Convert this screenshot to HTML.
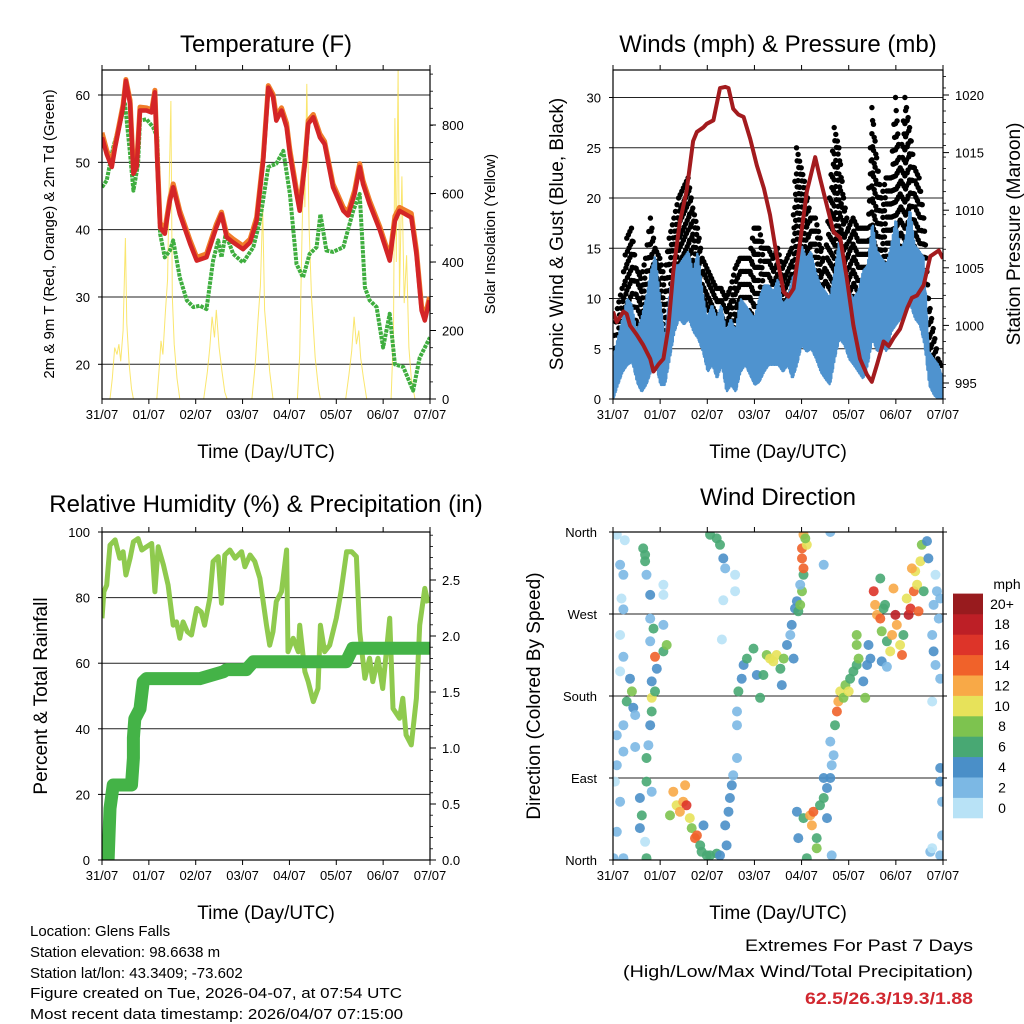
<!DOCTYPE html>
<html><head><meta charset="utf-8">
<style>
html,body{margin:0;padding:0;background:#fff;}
svg{display:block;font-family:"Liberation Sans",Arial,sans-serif;}
</style></head>
<body>
<svg id="chart" width="1024" height="1024" viewBox="0 0 1024 1024" xmlns="http://www.w3.org/2000/svg">
<rect width="1024" height="1024" fill="#fff"/>
<text x="266" y="52" font-size="24" text-anchor="middle">Temperature (F)</text>
<text x="778" y="52" font-size="24" text-anchor="middle">Winds (mph) &amp; Pressure (mb)</text>
<text x="266" y="512" font-size="24" text-anchor="middle">Relative Humidity (%) &amp; Precipitation (in)</text>
<text x="778" y="505" font-size="24" text-anchor="middle">Wind Direction</text>
<text x="266" y="458" font-size="19" text-anchor="middle">Time (Day/UTC)</text>
<text x="778" y="458" font-size="19" text-anchor="middle">Time (Day/UTC)</text>
<text x="266" y="919" font-size="19" text-anchor="middle">Time (Day/UTC)</text>
<text x="778" y="919" font-size="19" text-anchor="middle">Time (Day/UTC)</text>
<text transform="translate(54,234) rotate(-90)" font-size="15" text-anchor="middle">2m &amp; 9m T (Red, Orange) &amp; 2m Td (Green)</text>
<text transform="translate(495,234) rotate(-90)" font-size="15" text-anchor="middle">Solar Insolation (Yellow)</text>
<text transform="translate(563,234) rotate(-90)" font-size="19" text-anchor="middle">Sonic Wind &amp; Gust (Blue, Black)</text>
<text transform="translate(1020,234) rotate(-90)" font-size="19" text-anchor="middle">Station Pressure (Maroon)</text>
<text transform="translate(47,696) rotate(-90)" font-size="19" text-anchor="middle">Percent &amp; Total Rainfall</text>
<text transform="translate(540,696) rotate(-90)" font-size="19" text-anchor="middle">Direction (Colored By Speed)</text>
<g font-size="15">
<text x="30" y="936">Location: Glens Falls</text>
<text x="30" y="957">Station elevation: 98.6638 m</text>
<text x="30" y="978">Station lat/lon: 43.3409; -73.602</text>
<text x="30" y="998" textLength="372" lengthAdjust="spacingAndGlyphs">Figure created on Tue, 2026-04-07, at 07:54 UTC</text>
<text x="30" y="1019" textLength="373" lengthAdjust="spacingAndGlyphs">Most recent data timestamp: 2026/04/07 07:15:00</text>
</g>
<g font-size="17" text-anchor="end">
<text x="973" y="951" textLength="228" lengthAdjust="spacingAndGlyphs">Extremes For Past 7 Days</text>
<text x="973" y="977" textLength="350" lengthAdjust="spacingAndGlyphs">(High/Low/Max Wind/Total Precipitation)</text>
<text x="973" y="1004" font-weight="bold" fill="#d1272f" textLength="168" lengthAdjust="spacingAndGlyphs">62.5/26.3/19.3/1.88</text>
</g>
</svg>
<script>
// ---------- DATA ----------
const dayLabels = ["31/07","01/07","02/07","03/07","04/07","05/07","06/07","07/07"];
// Temperature panel
const tempDays = [0,0.10,0.21,0.28,0.38,0.45,0.51,0.60,0.67,0.74,0.81,0.95,1.06,1.13,1.18,1.24,1.34,1.45,1.52,1.66,1.88,2.02,2.23,2.44,2.55,2.66,2.80,3.01,3.16,3.30,3.44,3.55,3.65,3.72,3.83,3.94,4.01,4.15,4.22,4.33,4.40,4.51,4.65,4.75,4.93,5.15,5.25,5.39,5.50,5.57,5.71,5.93,6.14,6.25,6.35,6.60,6.71,6.82,6.89,6.99];
const temp2m = [53.7,51.2,49.3,52.2,55.7,58.2,62.1,58.7,48.3,49.3,57.7,57.7,57.4,60.4,50.2,40.3,39.4,44.3,46.3,42.3,37.9,35.4,35.9,40.3,42.3,38.9,38.1,37.1,38.1,41.3,50.2,61.1,59.7,56.2,57.7,55.2,51.2,45.3,42.8,49.8,55.7,56.7,53.7,52.7,46.3,42.8,42.1,45.3,49.3,46.8,43.8,39.9,35.4,41.3,42.8,41.8,36.4,28.0,26.5,29.5];
const temp9m = [54.4,51.8,49.9,52.6,56.1,58.6,62.3,59.2,48.9,49.9,58.2,58.1,57.8,60.7,50.8,41.0,40.0,44.7,46.8,42.8,38.4,35.9,36.4,40.8,42.6,39.4,38.6,37.6,38.6,41.8,50.7,61.4,60.1,56.9,58.1,55.8,51.8,45.9,43.4,50.3,56.2,57.1,54.2,53.1,46.8,43.3,42.6,45.8,49.8,47.3,44.3,40.4,35.9,42.0,43.3,42.4,37.0,28.6,27.0,30.0];
const dewDays = [0,0.1,0.24,0.38,0.49,0.6,0.67,0.77,0.81,0.95,1.09,1.18,1.24,1.34,1.45,1.52,1.66,1.81,1.95,2.09,2.23,2.37,2.48,2.55,2.64,2.8,3.01,3.23,3.37,3.48,3.55,3.72,3.87,4.01,4.15,4.29,4.43,4.58,4.66,4.79,4.93,5.15,5.36,5.5,5.61,5.71,5.86,6.0,6.14,6.25,6.43,6.64,6.78,7.0];
const dewPoint = [46.3,47.3,52.2,55.7,58.7,51.2,45.8,49.8,56.2,56.4,55.2,53.7,39.4,35.9,36.9,38.4,32.9,29.5,28.5,28.7,28.2,35.4,38.4,35.9,39.4,36.4,35.1,37.4,41.3,46.3,49.3,49.8,51.7,45.3,34.9,32.9,36.4,37.4,42.3,36.9,36.7,37.4,42.8,45.3,31.4,29.5,28.5,22.5,27.5,20.0,19.6,16.1,21.0,24.0];
const solarDays = [0,0.17,0.22,0.27,0.32,0.36,0.4,0.45,0.5,0.53,0.58,0.63,0.67,1.17,1.22,1.26,1.3,1.35,1.4,1.43,1.47,1.5,1.54,1.6,1.66,2.17,2.25,2.3,2.35,2.4,2.44,2.5,2.56,2.62,2.67,3.2,3.27,3.33,3.38,3.43,3.47,3.52,3.58,3.65,4.17,4.22,4.26,4.3,4.33,4.37,4.42,4.47,4.55,4.62,4.66,5.2,5.27,5.33,5.38,5.43,5.48,5.52,5.58,5.65,6.17,6.22,6.25,6.28,6.32,6.35,6.4,6.45,6.5,6.55,6.6,6.68,7.0];
const solarVals = [0,0,60,150,130,160,110,200,470,220,100,30,0,0,90,170,130,250,350,600,870,300,160,60,0,0,80,150,240,180,260,150,80,20,0,0,100,230,330,560,260,180,80,0,0,130,420,680,560,920,500,300,120,30,0,0,70,140,240,160,200,120,60,0,0,200,820,400,960,300,650,280,420,150,60,0,0];
const tempTicks = [20,30,40,50,60];
const solarTicks = [0,200,400,600,800];
// Winds panel
const pressDays = [0,0.08,0.22,0.29,0.36,0.5,0.64,0.79,0.86,0.96,1.07,1.17,1.28,1.42,1.56,1.7,1.78,1.92,1.99,2.13,2.27,2.38,2.45,2.55,2.66,2.77,2.91,3.05,3.2,3.33,3.47,3.62,3.72,3.83,3.97,4.11,4.29,4.39,4.53,4.68,4.82,4.96,5.1,5.24,5.39,5.49,5.6,5.74,5.85,5.95,6.09,6.24,6.34,6.45,6.59,6.73,6.91,7.0];
const pressVals = [1001.2,1000.3,1001.2,1001.0,1000.0,999.2,998.3,997.1,996.0,996.6,997.1,999.7,1004.7,1009.0,1011.6,1016.0,1016.8,1017.2,1017.5,1017.8,1020.6,1020.7,1020.6,1018.8,1018.3,1018.1,1016.2,1013.9,1011.9,1009.6,1006.1,1002.9,1002.5,1003.2,1007.3,1011.6,1014.6,1012.8,1010.5,1008.1,1007.6,1004.1,1000.0,997.1,995.7,995.1,996.6,998.6,998.2,998.9,999.7,1001.5,1002.4,1002.6,1003.5,1006.0,1006.5,1005.8];
const windHi = [4,6,8,10,9.4,6.7,8,10,12.7,14.3,10,6,10.7,13.3,13.3,14,14.7,12.7,14.7,10.7,8,9.4,8,9.4,6.7,8,6.7,10,9.4,8.7,8,10,11.3,11.3,10.7,12,9.4,10,12,12.7,15.3,14,14.7,12.7,11.3,10.7,10,12.7,15.9,12.7,10.7,10,10.7,12.7,13.3,17.6,14.7,14,13.3,15.3,18,14.7,15.9,19,15.3,14.7,14,4.7,4,3.4,2];
const windLo = [0,1.4,2.7,3.4,3.7,1.7,0.7,1.4,2.7,3.4,1.4,1.4,4,6.7,8,7.4,8,6.7,6,4.7,2.7,3.4,2,3.4,0.7,1.4,0.7,2.7,3.4,2.4,1.4,1.7,2.7,3.4,3.4,3.4,2.7,3.4,2,3.4,5.4,4.7,5,4,2.7,2,1.4,4,6,5.4,4,3.4,2.7,2,3.4,6,4.7,5.4,4.7,6.7,7.4,8,8.7,9.4,8,7.4,5.4,1.4,0.4,0,0];
const gustHi = [5,9,11,16,17,13,12,14,18,15,14,12,16,18,20,21,22,19,17,14,13,12,11,11,10,11,13,14,14,14,17,17,15,15,14,15,13,14,15,25,23,21,18,18,16,13,20,27,25,20,17,18,17,17,17,29,24,20,22,22,30,23,30,27,23,22,18,10,7,4,3];
const windTicks = [0,5,10,15,20,25,30];
const pressTicks = [995,1000,1005,1010,1015,1020];
// Humidity panel
const rhDays = [0,0.04,0.1,0.17,0.28,0.38,0.45,0.51,0.6,0.67,0.77,0.85,0.95,1.06,1.13,1.2,1.31,1.41,1.52,1.59,1.66,1.73,1.82,1.91,2.02,2.12,2.19,2.3,2.37,2.48,2.55,2.62,2.73,2.84,2.98,3.05,3.16,3.26,3.37,3.51,3.58,3.65,3.72,3.83,3.94,3.97,4.08,4.19,4.22,4.33,4.4,4.51,4.61,4.66,4.75,4.86,5.0,5.1,5.22,5.33,5.43,5.5,5.61,5.71,5.78,5.89,5.99,6.14,6.21,6.35,6.42,6.49,6.6,6.71,6.78,6.89,6.96];
const rhVals = [73.7,81.8,83.8,96,97.6,92,94,86.9,92,97,98,94.5,95.5,96.5,81.8,95.5,90,83.8,71.6,72.6,67.6,72.6,69.6,68.6,76.7,75.6,71.6,79.8,91,92.5,78.3,93,94.5,92,94,89.4,93,91,85.9,71.6,65.5,69.6,78.8,81.8,94.5,63.5,67.6,63.5,71.6,57.4,54.4,48.3,52.3,71.6,63.5,65.5,73.7,81.8,94,94,92.5,69.6,55.4,61.5,54.4,61.5,52.3,73.7,46.2,43.2,49.3,38.1,35.1,49.3,71.6,82.8,78.3];
const rainDays = [0,0.13,0.17,0.24,0.63,0.67,0.67,0.7,0.81,0.88,0.95,2.09,2.59,2.66,3.08,3.23,5.21,5.35,7.0];
const rainVals = [0,0,0.46,0.67,0.67,0.91,1.09,1.26,1.35,1.59,1.62,1.62,1.68,1.70,1.70,1.77,1.77,1.89,1.89];
const rhTicks = [0,20,40,60,80,100];
const rainTicks = ["0.0","0.5","1.0","1.5","2.0","2.5"];
// Wind direction panel
const dirDays = [0.08,0.25,0.15,0.22,0.18,0.22,0.15,0.22,0.15,0.36,0.40,0.29,0.43,0.47,0.22,0.08,0.22,0.47,0.08,0.04,0.15,0.08,0.22,0.57,0.61,0.57,0.68,0.71,0.71,0.75,0.79,0.82,0.82,0.89,0.82,0.93,0.89,1.07,1.14,1.07,0.86,0.79,0.68,0.64,0.68,0.71,0.79,1.07,1.07,0.79,0.82,0.71,0.01,
1.28,1.35,1.49,1.56,1.42,1.53,1.63,1.67,1.74,1.78,1.85,1.92,1.88,1.99,2.06,2.20,2.27,2.41,2.38,2.45,2.48,2.52,2.55,2.63,1.21,2.06,2.20,2.27,2.34,2.38,2.59,2.59,2.34,2.31,
2.63,2.63,2.66,2.73,2.77,2.84,2.98,3.05,3.12,3.19,3.26,3.33,3.40,3.47,3.55,3.58,3.62,3.69,3.76,3.83,3.79,3.86,3.93,3.90,3.97,4.01,3.97,4.04,4.04,4.01,4.01,4.11,4.04,4.08,4.61,4.47,
3.90,3.93,4.04,4.18,4.22,4.25,4.32,4.32,4.11,4.39,4.47,4.54,4.61,4.64,4.68,4.61,4.47,4.54,4.64,4.71,4.75,4.78,4.82,4.89,4.93,5.00,5.03,5.10,5.17,5.21,5.17,5.31,5.35,5.39,5.46,5.42,5.56,5.53,5.60,5.67,5.70,5.74,5.81,5.88,5.92,5.95,5.99,6.02,6.09,6.13,6.16,6.23,6.27,6.31,6.38,6.41,6.45,6.48,6.52,6.55,6.59,6.66,6.69,6.34,5.67,5.77,5.17,5.70,5.81,
6.84,6.87,6.80,6.91,6.94,6.77,6.80,6.84,6.94,6.77,6.94,6.94,6.98,6.98,6.73,6.94,6.77];
const dirDeg = [357,351,324,313,287,275,247,223,207,199,185,174,167,159,148,137,119,124,104,86,64,31,2,68,49,35,20,112,86,126,148,163,178,185,196,210,223,229,236,258,254,240,335,342,328,313,291,302,291,265,75,2,2,
75,60,64,60,53,82,46,35,24,27,16,38,9,5,5,7,5,16,38,53,68,82,93,112,49,357,353,346,331,320,313,295,285,242,
148,163,185,199,214,221,232,203,178,203,225,221,218,225,210,192,221,236,247,221,258,276,273,284,280,295,302,313,320,331,342,346,357,353,360,324,
53,24,46,49,38,53,24,13,2,60,68,79,90,104,115,130,90,46,5,148,163,174,185,178,192,185,199,207,214,221,236,196,178,214,221,236,280,295,269,265,251,276,240,229,247,298,269,258,236,225,247,287,269,276,295,317,302,273,328,346,295,350,331,320,309,280,247,218,212,
313,295,280,265,287,247,229,214,199,174,101,86,64,27,9,5,13];
const dirSpeed = [1,1,2,2,1,2,1,3,1,5,9,6,5,3,3,2,2,3,2,1,2,2,2,5,6,4,1,7,7,3,4,6,10,7,4,4,14,7,9,3,6,2,6,6,6,3,4,1,1,2,2,6,2,
12,11,12,16,13,12,10,9,15,14,7,5,7,6,6,6,4,4,4,4,4,4,2,2,8,6,6,6,4,2,1,1,1,1,
3,2,6,4,4,7,7,5,6,7,8,10,10,10,6,5,8,4,3,4,4,4,7,4,9,9,2,7,15,15,15,10,12,8,2,2,
4,4,6,12,12,15,7,9,7,7,7,5,4,2,2,2,5,5,2,7,15,12,10,9,8,10,6,6,7,9,8,5,8,5,4,5,13,17,12,14,8,6,6,10,12,12,18,12,10,14,7,11,18,16,14,11,11,14,10,8,6,4,4,13,7,6,8,4,2,
1,2,3,2,2,2,4,2,2,1,4,4,2,3,2,2,1];
const dirTickLabels = ["North","East","South","West","North"];
const speedBins = ["0","2","4","6","8","10","12","14","16","18","20+"];
const speedColors = ["#b8e2f6","#7cb8e4","#4a8fc8","#48a873","#7dc34f","#e7e25a","#f8a947","#f0622a","#dd3429","#bd1f26","#981b1e"];

// ---------- RENDER ----------
const NS = "http://www.w3.org/2000/svg";
const svg = document.getElementById("chart");
function mk(tag, attrs, parent){
  const e = document.createElementNS(NS, tag);
  for (const k in attrs) e.setAttribute(k, attrs[k]);
  (parent||svg).appendChild(e);
  return e;
}
function grp(name){
  const g = mk("g", {});
  
  
  return g;
}
function lin(d0,d1,r0,r1){ return v => r0 + (v-d0)*(r1-r0)/(d1-d0); }

const P1 = {x0:102,x1:430,y0:70,y1:399};
const P2 = {x0:613,x1:943,y0:70,y1:399};
const P3 = {x0:102,x1:430,y0:532,y1:860};
const P4 = {x0:613,x1:943,y0:532,y1:860};

const x1s = lin(0,7,P1.x0,P1.x1);
const x2s = lin(0,7,P2.x0,P2.x1);
const yT = lin(20,60,364.3,95);
const yS = lin(0,800,399,125);
const yW = lin(0,30,399,97.5);
const yP = lin(995,1020,383,95);
const yR = lin(0,100,860,532);
const yRain = lin(0,2.5,860,580);
const yD = lin(0,360,860,532);

function frame(P, name, xs){
  const g = grp(name);
  mk("rect",{x:P.x0,y:P.y0,width:P.x1-P.x0,height:P.y1-P.y0,fill:"none",stroke:"#000","stroke-width":1.2},g);
  const gt = grp(name+"-x-ticks");
  for (let i=0;i<dayLabels.length;i++){
    const x = xs(i);
    mk("line",{x1:x,x2:x,y1:P.y0,y2:P.y0-5,stroke:"#000","stroke-width":1},gt);
    mk("line",{x1:x,x2:x,y1:P.y1,y2:P.y1+5,stroke:"#000","stroke-width":1},gt);
    const t = mk("text",{x:x,y:P.y1+20,"font-size":13,"text-anchor":"middle"},gt);
    
    
    t.textContent = dayLabels[i];
  }
}
function leftTicks(P, vals, ys, labels, name, grid){
  const g = grp(name);
  vals.forEach((v,i)=>{
    const y = ys(v);
    if (grid && y>P.y0+1 && y<P.y1-1) mk("line",{x1:P.x0,x2:P.x1,y1:y,y2:y,stroke:"#222","stroke-width":1},g);
    mk("line",{x1:P.x0,x2:P.x0-4,y1:y,y2:y,stroke:"#000"},g);
    const t = mk("text",{x:P.x0-12,y:y+5,"font-size":13,"text-anchor":"end"},g);
    
    
    t.textContent = labels ? labels[i] : v;
  });
}
function rightTicks(P, vals, ys, labels, name, minorStep){
  const g = grp(name);
  vals.forEach((v,i)=>{
    const y = ys(v);
    mk("line",{x1:P.x1,x2:P.x1+6,y1:y,y2:y,stroke:"#000"},g);
    const t = mk("text",{x:P.x1+12,y:y+5,"font-size":13,"text-anchor":"start"},g);
    
    
    t.textContent = labels ? labels[i] : v;
  });
  if (minorStep){
    for (let y=P.y1; y>=P.y0; y-=minorStep) mk("line",{x1:P.x1,x2:P.x1+3,y1:y,y2:y,stroke:"#000","stroke-width":0.8},g);
  }
}
function path(xsArr, ysArr, xs, ys){
  return xsArr.map((d,i)=>(i?"L":"M")+xs(d).toFixed(1)+","+ys(ysArr[i]).toFixed(1)).join("");
}
function clip(id,P){
  const cp = mk("clipPath",{id:id});
  mk("rect",{x:P.x0,y:P.y0,width:P.x1-P.x0,height:P.y1-P.y0},cp);
}
clip("c1",P1);clip("c2",P2);clip("c3",P3);clip("c4",P4);

// Panel 1
leftTicks(P1, tempTicks, yT, null, "temp-y-ticks", true);
rightTicks(P1, solarTicks, yS, null, "solar-y-ticks", 17.1);
{
  const g = grp("temperature-series"); g.setAttribute("clip-path","url(#c1)");
  const s = mk("path",{d:path(solarDays,solarVals,x1s,yS),fill:"none",stroke:"#f9e04a","stroke-width":1,"stroke-opacity":0.8},g);
   
  const dp = mk("path",{d:path(dewDays,dewPoint,x1s,yT),fill:"none",stroke:"#3fae3f","stroke-width":4,"stroke-dasharray":"3.5 1","stroke-linejoin":"round"},g);
   
  const o = mk("path",{d:path(tempDays,temp9m,x1s,yT),fill:"none",stroke:"#f07d2a","stroke-width":5,"stroke-linejoin":"round"},g);
   
  const r = mk("path",{d:path(tempDays,temp2m,x1s,yT),fill:"none",stroke:"#d42527","stroke-width":4.5,"stroke-linejoin":"round"},g);
   
}
frame(P1,"temperature-frame",x1s);

// Panel 2
leftTicks(P2, windTicks, yW, null, "wind-y-ticks", true);
rightTicks(P2, pressTicks, yP, null, "pressure-y-ticks", 11.52);
{
  const g = grp("winds-series"); g.setAttribute("clip-path","url(#c2)");
  const n = windHi.length-1;
  let d = "";
  for (let k=0;k<n;k++){
    for (let j=0;j<8;j++){
      const f = j/8;
      const t = (k+f)*7/n;
      const hi = windHi[k]+(windHi[k+1]-windHi[k])*f;
      const lo = windLo[k]+(windLo[k+1]-windLo[k])*f;
      const mid = (hi+lo)/2;
      d += (d?"L":"M")+x2s(t).toFixed(1)+","+yW(j%2?hi:hi*0.92).toFixed(1)+"L"+x2s(t+7/n/16).toFixed(1)+","+yW(j%3?lo:mid).toFixed(1);
    }
  }
  const gg = grp("gust-dots"); g.appendChild(gg);
  for (let k=0;k<n;k++){
    for (let s=0;s<3;s++){
      const f = s/3;
      const top = gustHi[k]+(gustHi[k+1]-gustHi[k])*f;
      const bot = (windHi[k]+(windHi[k+1]-windHi[k])*f)*0.7;
      let i=0;
      for (let v=top; v>=bot; v-=1.3, i++){
        const off = ((i%2)*0.5-0.25)*0.03;
        const c = mk("circle",{cx:x2s((k+f)*7/n+off).toFixed(1),cy:yW(v).toFixed(1),r:2.7,fill:"#000"},gg);
         
      }
    }
  }
  const w = mk("path",{d:d,fill:"none",stroke:"#4f93cf","stroke-width":2.4,"stroke-linejoin":"round"},g);
   
  const p = mk("path",{d:path(pressDays,pressVals,x2s,yP),fill:"none",stroke:"#a31b1e","stroke-width":4,"stroke-linejoin":"round"},g);
   
}
frame(P2,"winds-frame",x2s);

// Panel 3
leftTicks(P3, rhTicks, yR, null, "humidity-y-ticks", true);
rightTicks(P3, rainTicks.map(Number), yRain, rainTicks, "rain-y-ticks", 11.2);
{
  const g = grp("humidity-series"); g.setAttribute("clip-path","url(#c3)");
  const rh = mk("path",{d:path(rhDays,rhVals,x1s,yR),fill:"none",stroke:"#8fca4e","stroke-width":5,"stroke-linejoin":"round"},g);
   
  const rn = mk("path",{d:path(rainDays,rainVals,x1s,yRain),fill:"none",stroke:"#44b347","stroke-width":13,"stroke-linejoin":"round","stroke-linecap":"round"},g);
   
}
frame(P3,"humidity-frame",x1s);

// Panel 4
{
  const g = grp("direction-y-ticks");
  dirTickLabels.forEach((lab,i)=>{
    const y = yD(i*90);
    if (i>0 && i<4) mk("line",{x1:P4.x0,x2:P4.x1,y1:y,y2:y,stroke:"#222","stroke-width":1},g);
    mk("line",{x1:P4.x0,x2:P4.x0-4,y1:y,y2:y,stroke:"#000"},g);
    mk("line",{x1:P4.x1,x2:P4.x1+4,y1:y,y2:y,stroke:"#000"},g);
    const t = mk("text",{x:P4.x0-16,y:y+5,"font-size":13,"text-anchor":"end"},g);
    
    
    t.textContent = lab;
  });
  const gd = grp("direction-dots"); gd.setAttribute("clip-path","url(#c4)");
  dirDays.forEach((d,i)=>{
    const bin = Math.min(10, Math.floor(dirSpeed[i]/2));
    const c = mk("circle",{cx:x2s(d).toFixed(1),cy:yD(dirDeg[i]).toFixed(1),r:5,fill:speedColors[bin],"fill-opacity":0.9},gd);
    
    
  });
}
frame(P4,"direction-frame",x2s);
{
  const g = grp("speed-colorbar");
  const t0 = mk("text",{x:1007,y:589,"font-size":14,"text-anchor":"middle"},g);
  t0.textContent = "mph";
  const h = 20.4;
  speedBins.forEach((lab,i)=>{
    const y = 818 - (i+1)*h;
    const r = mk("rect",{x:953,y:y.toFixed(1),width:30,height:h+0.3,fill:speedColors[i]},g);
    
    
    const t = mk("text",{x:1002,y:(y+h/2+5).toFixed(1),"font-size":14,"text-anchor":"middle"},g);
    
    
    t.textContent = lab;
  });
}
</script>
</body></html>
